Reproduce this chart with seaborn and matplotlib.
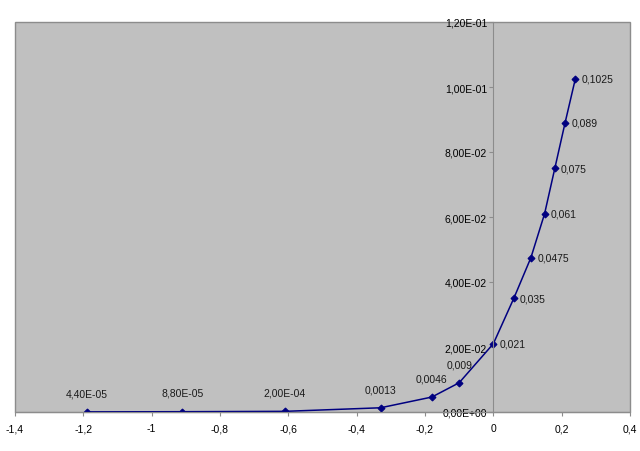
import numpy as np
import pandas as pd
import seaborn as sns
import matplotlib.pyplot as plt
from matplotlib.ticker import FuncFormatter, MultipleLocator

# values
x_vals = [-1.19, -0.91, -0.61, -0.33, -0.18, -0.10, 0.0, 0.06, 0.11, 0.15, 0.18, 0.21, 0.24]
y_vals = [4.4e-05, 8.8e-05, 2.0e-04, 0.0013, 0.0046, 0.009, 0.021, 0.035, 0.0475, 0.061, 0.075, 0.089, 0.1025]
point_labels = ["4,40E-05", "8,80E-05", "2,00E-04", "0,0013", "0,0046", "0,009", "0,021",
                "0,035", "0,0475", "0,061", "0,075", "0,089", "0,1025"]
label_above = [True, True, True, True, True, True, False, False, False, False, False, False, False]

df = pd.DataFrame({"x": x_vals, "y": y_vals})

plt.rcParams['font.family'] = ['Liberation Sans', 'DejaVu Sans']
plt.rcParams['font.size'] = 7.5

fig = plt.figure(figsize=(6.4, 4.52), dpi=100)
ax = fig.add_axes([15 / 640, 1 - 413 / 452, 615 / 640, 390 / 452])
ax.set_facecolor('#C0C0C0')
ax.patch.set_edgecolor('#8C8C8C')
ax.patch.set_linewidth(1.0)

sns.lineplot(data=df, x="x", y="y", ax=ax, color='#000080', linewidth=1.1,
             marker='D', markersize=3.5, markeredgewidth=0.8, markeredgecolor='#000080', sort=False)

for xv, yv, lab, above in zip(x_vals, y_vals, point_labels, label_above):
    if above:
        ax.annotate(lab, (xv, yv), xytext=(0, 13.5), textcoords='offset points',
                    ha='center', va='center', color='#1a1a1a')
    else:
        ax.annotate(lab, (xv, yv), xytext=(4.5, 0), textcoords='offset points',
                    ha='left', va='center', color='#1a1a1a')

ax.set_xlim(-1.4, 0.4)
ax.set_ylim(0, 0.12)
ax.xaxis.set_major_locator(MultipleLocator(0.2))
ax.yaxis.set_major_locator(MultipleLocator(0.02))
ax.xaxis.set_major_formatter(FuncFormatter(lambda v, p: ('%g' % round(v, 2)).replace('.', ',')))
ax.yaxis.set_major_formatter(FuncFormatter(lambda v, p: ('%.2E' % v).replace('.', ',')))

for s in ['top', 'right']:
    ax.spines[s].set_visible(False)
ax.spines['left'].set_position(('data', 0))
ax.spines['left'].set_color('#8C8C8C')
ax.spines['bottom'].set_color('#8C8C8C')
ax.tick_params(axis='both', colors='#8C8C8C', labelcolor='black', length=3, width=0.8)
ax.tick_params(axis='x', pad=5)
ax.tick_params(axis='y', pad=1.5)
ax.set_xlabel('')
ax.set_ylabel('')

fig.savefig('out.png', dpi=100)
